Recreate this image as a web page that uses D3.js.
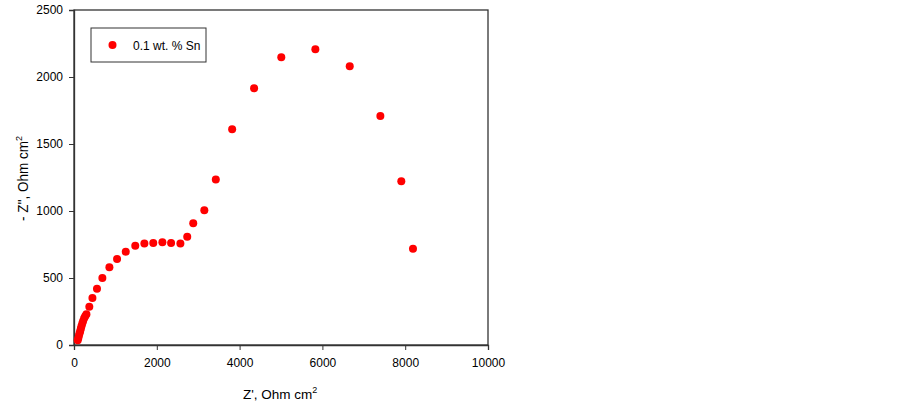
<!DOCTYPE html>
<html>
<head>
<meta charset="utf-8">
<script src="https://cdn.jsdelivr.net/npm/d3@7"></script>
<style>
  body { margin: 0; background: #fff; }
  svg { font-family: "Liberation Sans", Arial, sans-serif; }
</style>
</head>
<body>
<div id="chart"></div>
<script>
// Nyquist data, 0.1 wt. % Sn
var zReal = [90, 105, 120, 135, 150, 165, 180, 200, 220, 245, 270, 300,
  370, 445, 555, 685, 855, 1040, 1250, 1480, 1700, 1915, 2135, 2345, 2570,
  2735, 2880, 3148, 3425, 3820, 4350, 5007, 5830, 6660, 7400, 7906, 8188]
var zImag = [35, 52, 70, 88, 105, 122, 140, 160, 180, 200, 215, 230,
  285, 350, 420, 500, 580, 642, 696, 740, 757, 761, 766, 761, 757,
  808, 908, 1005, 1235, 1610, 1916, 2147, 2207, 2080, 1709, 1222, 719]
var xTicks = [0, 2000, 4000, 6000, 8000, 10000]
var yTicks = [0, 500, 1000, 1500, 2000, 2500]
var seriesName = '0.1 wt. % Sn'

var width = 903, height = 407
var margin = {top: 10, right: 415, bottom: 62, left: 74}
var w = width - margin.left - margin.right,
    h = height - margin.top - margin.bottom

var svg = d3.select('#chart').append('svg')
    .attr('width', width)
    .attr('height', height)

var g = svg.append('g')
    .attr('transform', 'translate(' + margin.left + ',' + margin.top + ')')

var x = d3.scaleLinear().domain([0, 10000]).range([0, w])
var y = d3.scaleLinear().domain([0, 2500]).range([h, 0])

// frame
g.append('rect')
    .attr('width', w).attr('height', h)
    .attr('fill', 'none')
    .attr('stroke', '#333')
    .attr('stroke-width', 1.3)

var xAxis = g.append('g')
    .attr('transform', 'translate(0,' + h + ')')
    .call(d3.axisBottom(x).tickValues(xTicks).tickSize(5).tickPadding(8).tickFormat(d3.format('d')))
var yAxis = g.append('g')
    .call(d3.axisLeft(y).tickValues(yTicks).tickSize(5).tickPadding(6).tickFormat(d3.format('d')))

;[xAxis, yAxis].forEach(function(a){
  a.select('.domain').attr('stroke', '#333').attr('stroke-width', 1.3)
  a.selectAll('.tick line').attr('stroke', '#333')
  a.selectAll('.tick text').attr('font-size', 12).attr('fill', '#000')
    .style('font-family', '"Liberation Sans", Arial, sans-serif')
})

// points
var pts = zReal.map(function(v, i){ return {x: v, y: zImag[i]} })
g.selectAll('.pt')
    .data(pts)
  .enter().append('circle')
    .attr('class', 'pt')
    .attr('cx', function(d){ return x(d.x) })
    .attr('cy', function(d){ return y(d.y) })
    .attr('r', 4)
    .attr('fill', '#ff0000')

// legend
var leg = g.append('g').attr('transform', 'translate(17,18)')
leg.append('rect')
    .attr('width', 115).attr('height', 34)
    .attr('fill', '#fff')
    .attr('stroke', '#333')
leg.append('circle').attr('cx', 21.5).attr('cy', 17).attr('r', 4).attr('fill', '#ff0000')
leg.append('text').attr('x', 42).attr('y', 21.5)
    .attr('font-size', 12).text(seriesName)

// axis titles
var xl = svg.append('text')
    .attr('x', 243)
    .attr('y', 399)
    .attr('font-size', 13.5)
xl.append('tspan').text("Z', Ohm cm")
xl.append('tspan').attr('font-size', 9).attr('dy', -6).text('2')

var yl = svg.append('text')
    .attr('transform', 'translate(28,221) rotate(-90)')
    .attr('font-size', 15)
yl.append('tspan').attr('textLength', 80).attr('lengthAdjust', 'spacingAndGlyphs').text("- Z'', Ohm cm")
yl.append('tspan').attr('font-size', 9).attr('dy', -6).text('2')
</script>
</body>
</html>
